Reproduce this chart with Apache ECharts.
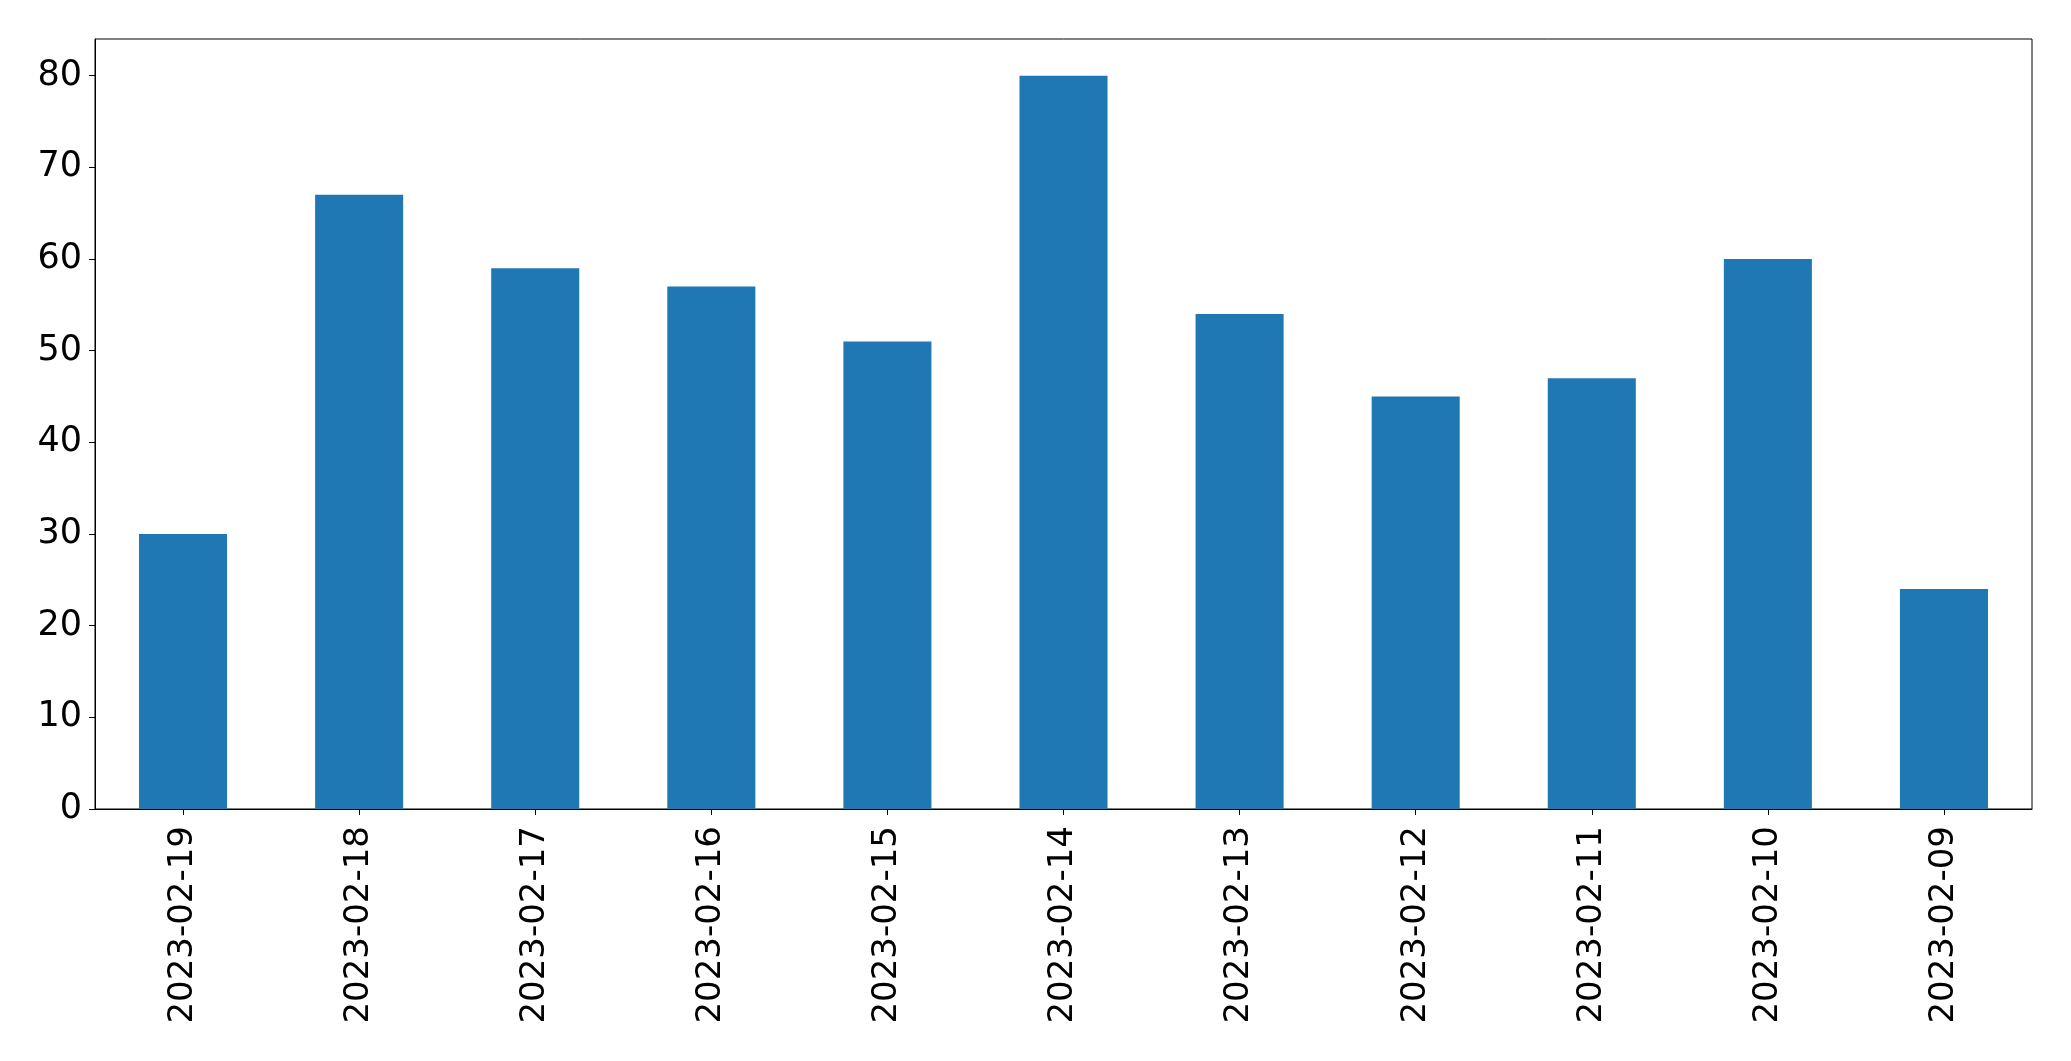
<!DOCTYPE html>
<html>
<head>
<meta charset="utf-8">
<script src="https://cdn.jsdelivr.net/npm/echarts@6/dist/echarts.min.js"></script>
<style>
html,body{margin:0;padding:0;background:#fff;}
#chart{width:2071px;height:1061px;}
</style>
</head>
<body>
<div id="chart"></div>
<script>
const categories = ['2023-02-19','2023-02-18','2023-02-17','2023-02-16','2023-02-15','2023-02-14','2023-02-13','2023-02-12','2023-02-11','2023-02-10','2023-02-09'];
const values = [30, 67, 59, 57, 51, 80, 54, 45, 47, 60, 24];
const yTicks = [0, 10, 20, 30, 40, 50, 60, 70, 80];

const chart = echarts.init(document.getElementById('chart'), null, {renderer: 'canvas'});
chart.setOption({
  animation: false,
  backgroundColor: '#ffffff',
  textStyle: {fontFamily: 'DejaVu Sans'},
  grid: {
    left: 95, right: 39, top: 39, bottom: 252,
    show: true, borderColor: '#000000', borderWidth: 1, backgroundColor: 'transparent'
  },
  xAxis: {
    type: 'category',
    data: categories,
    boundaryGap: true,
    axisLine: {show: true, lineStyle: {color: '#000', width: 1}},
    axisTick: {show: true, alignWithLabel: true, length: 6, lineStyle: {color: '#000', width: 1}},
    axisLabel: {rotate: 90, margin: 17, fontSize: 34, color: '#000', fontFamily: 'DejaVu Sans', interval: 0},
    splitLine: {show: false}
  },
  yAxis: {
    type: 'value',
    min: 0, max: 84, interval: 10,
    axisLine: {show: true, lineStyle: {color: '#000', width: 1}},
    axisTick: {show: true, length: 6, lineStyle: {color: '#000', width: 1}, customValues: yTicks},
    axisLabel: {margin: 13, fontSize: 35, color: '#000', fontFamily: 'DejaVu Sans', customValues: yTicks},
    splitLine: {show: false}
  },
  series: [{
    type: 'bar',
    data: values,
    barWidth: '50%',
    itemStyle: {color: '#1f77b4'}
  }]
});
</script>
</body>
</html>
